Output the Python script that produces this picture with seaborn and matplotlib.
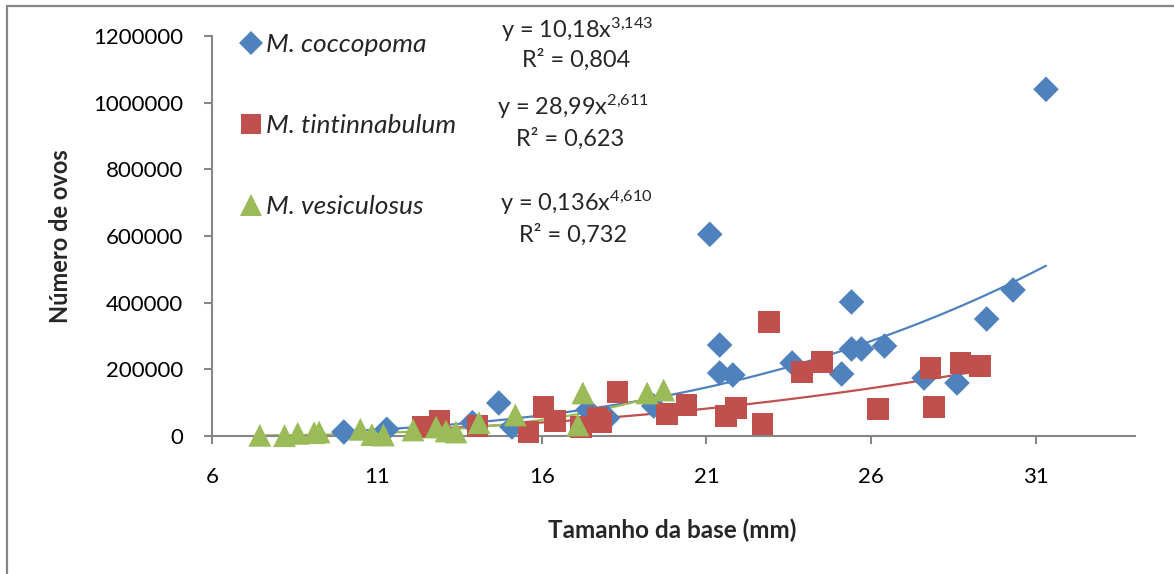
import matplotlib
matplotlib.use("Agg")
import matplotlib.pyplot as plt
from matplotlib.lines import Line2D
from matplotlib.patches import Rectangle
import numpy as np
import pandas as pd
import seaborn as sns

# Egg counts versus basal diameter for three barnacle species
coccopoma_x = [10.0, 11.3, 13.9, 14.7, 15.1, 17.4, 18.0, 19.4, 21.1, 21.4, 21.4, 21.8,
               23.6, 25.1, 25.4, 25.4, 25.7, 26.4, 27.6, 28.6, 29.5, 30.3, 31.3]
coccopoma_y = [12000, 20000, 40000, 99000, 27000, 78000, 54000, 90000, 605000, 273000,
               189000, 183000, 219000, 186000, 402000, 261000, 261000, 270000, 174000,
               159000, 351000, 438000, 1040000]

tintinnabulum_x = [12.4, 12.9, 14.05, 15.6, 16.05, 16.4, 17.2, 17.7, 17.8, 18.3, 19.8,
                   20.4, 21.6, 21.9, 22.7, 22.9, 23.9, 24.5, 26.2, 27.8, 27.9, 28.7, 29.3]
tintinnabulum_y = [27000, 45000, 30000, 12000, 87000, 45000, 27000, 54000, 42000, 132000,
                   66000, 93000, 60000, 84000, 36000, 342000, 192000, 222000, 81000,
                   204000, 87000, 219000, 210000]

vesiculosus_x = [7.45, 8.2, 8.6, 9.1, 9.25, 10.5, 10.85, 11.2, 12.1, 12.8, 13.1, 13.4,
                 14.1, 15.2, 17.1, 17.25, 19.2, 19.7]
vesiculosus_y = [2000, 1000, 8000, 10000, 12000, 20000, 4000, 3000, 18000, 27000, 15000,
                 12000, 40000, 63000, 33000, 129000, 129000, 138000]

species = ["M. coccopoma", "M. tintinnabulum", "M. vesiculosus"]
# power-law fits y = a * x^b
fit_a = [10.18, 28.99, 0.136]
fit_b = [3.143, 2.611, 4.610]
fit_r2 = ["0,804", "0,623", "0,732"]
fit_a_txt = ["10,18", "28,99", "0,136"]
fit_b_txt = ["3{,}143", "2{,}611", "4{,}610"]

y_ticks = [0, 200000, 400000, 600000, 800000, 1000000, 1200000]
x_ticks = [6, 11, 16, 21, 26, 31]

colors = ["#4F81BD", "#C0504D", "#9BBB59"]
markers = ["D", "s", "^"]
sizes = [170, 240, 270]

sns.set_theme(style="white")
plt.rcParams["font.family"] = ["Lato", "DejaVu Sans"]
plt.rcParams["mathtext.fontset"] = "custom"
plt.rcParams["mathtext.rm"] = "Lato"
plt.rcParams["mathtext.it"] = "Lato:italic"

W, H = 1174, 574
fig = plt.figure(figsize=(W / 100, H / 100), dpi=100)
ax = fig.add_axes([212 / W, 1 - 436 / H, (1135 - 212) / W, (436 - 36) / H])

frames = []
for name, xs, ys in zip(species,
                        [coccopoma_x, tintinnabulum_x, vesiculosus_x],
                        [coccopoma_y, tintinnabulum_y, vesiculosus_y]):
    frames.append(pd.DataFrame({"x": xs, "y": ys, "species": name}))
df = pd.concat(frames, ignore_index=True)

# trend lines drawn beneath the markers
for name, a, b, c in zip(species, fit_a, fit_b, colors):
    sub = df[df["species"] == name]
    xx = np.linspace(sub["x"].min(), sub["x"].max(), 200)
    ax.plot(xx, a * xx ** b, color=c, lw=1.6, zorder=2)

for name, c, m, s in zip(species, colors, markers, sizes):
    sns.scatterplot(data=df[df["species"] == name], x="x", y="y", color=c, marker=m,
                    s=s, edgecolor="none", linewidth=0, alpha=1, ax=ax, zorder=3,
                    legend=False)

ax.set_xlim(6, 34)
ax.set_ylim(0, 1200000)
ax.set_xticks(x_ticks)
ax.set_yticks(y_ticks)
ax.set_xticklabels([str(t) for t in x_ticks])
ax.set_yticklabels([str(t) for t in y_ticks])

axis_gray = "#868686"
for side in ["top", "right"]:
    ax.spines[side].set_visible(False)
for side in ["left", "bottom"]:
    ax.spines[side].set_color(axis_gray)
    ax.spines[side].set_linewidth(1.5)
ax.tick_params(axis="both", direction="out", length=6, width=1.5, color=axis_gray,
               labelsize=16, labelcolor="black")
ax.tick_params(axis="y", pad=15)
ax.tick_params(axis="x", pad=16)
ax.xaxis.set_ticks_position("bottom")
ax.yaxis.set_ticks_position("left")
ax.set_xlabel("")
ax.set_ylabel("")
ax.grid(False)
ax.set_facecolor("white")
for coll in ax.collections:
    coll.set_clip_on(False)

fig.text(672 / W, 1 - 530 / H, "Tamanho da base (mm)", ha="center", va="center",
         fontsize=17.5, fontweight="bold")
fig.text(61 / W, 1 - 236 / H, "Número de ovos", ha="center", va="center",
         fontsize=17, fontweight="bold", rotation=90)

# legend
handles = [Line2D([], [], linestyle="none", marker=m, color=c, markersize=ms,
                  markeredgewidth=0)
           for m, c, ms in zip(markers, colors, [12, 15, 16])]
leg = ax.legend(handles, species, loc="upper left",
                bbox_to_anchor=(244 / W, 1 - 33 / H), bbox_transform=fig.transFigure,
                frameon=False, handlelength=0.55, handletextpad=0.3,
                labelspacing=2.2, borderpad=0, borderaxespad=0,
                prop={"size": 19, "style": "italic", "family": "Lato"})

# equations of the fitted curves
eq_pos = [(577, 30, 576, 60), (573, 107, 570, 139), (576, 203, 573, 235)]
for (ex, ey, rx, ry), at, bt, r2 in zip(eq_pos, fit_a_txt, fit_b_txt, fit_r2):
    fig.text(ex / W, 1 - ey / H, "y = " + at + "x$^{\\mathregular{" + bt + "}}$",
             ha="center", va="center", fontsize=16.9)
    fig.text(rx / W, 1 - ry / H, "R² = " + r2, ha="center", va="center", fontsize=16.9)

# chart area frame
fig.patches.append(Rectangle((7 / W, -0.05), 1.2, 1 - 5.5 / H + 0.05,
                             transform=fig.transFigure, fill=False,
                             edgecolor=axis_gray, linewidth=1.6))

fig.savefig("out.png", dpi=100)
